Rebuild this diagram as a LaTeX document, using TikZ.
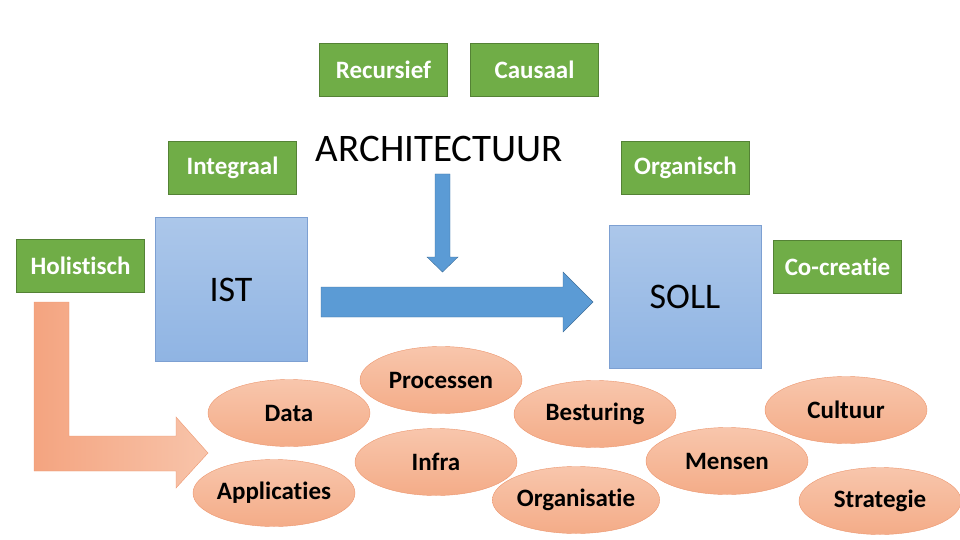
\documentclass[tikz,border=0pt]{standalone}
\usepackage{fontspec}
\setmainfont{Carlito}[Ligatures=NoCommon]
\usetikzlibrary{shapes.geometric, positioning, calc}
\definecolor{mygreen}{RGB}{112,173,71}
\definecolor{mygreenline}{RGB}{84,130,53}
\definecolor{myblue}{RGB}{91,155,213}
\definecolor{myblueline}{RGB}{65,113,156}
\definecolor{boxtop}{RGB}{172,199,234}
\definecolor{boxbot}{RGB}{143,180,227}
\definecolor{boxline}{RGB}{125,160,210}
\definecolor{ovaltop}{RGB}{248,198,172}
\definecolor{ovalbot}{RGB}{244,172,136}
\definecolor{ovalline}{RGB}{236,150,110}
\definecolor{bendleft}{RGB}{244,164,128}
\definecolor{bendright}{RGB}{248,196,170}
\tikzset{
  greenbox/.style={draw=mygreenline, fill=mygreen, text=white, font=\bfseries\fontsize{25}{28}\selectfont, minimum width=128pt, minimum height=53pt, inner sep=0pt},
  statebox/.style={draw=boxline, top color=boxtop, bottom color=boxbot, font=\fontsize{36}{40}\selectfont, minimum width=152pt, minimum height=144pt, inner sep=0pt},
  facet/.style={ellipse, draw=ovalline, top color=ovaltop, bottom color=ovalbot, font=\bfseries\fontsize{25}{28}\selectfont, minimum width=162pt, minimum height=67pt, inner sep=0pt},
}

\begin{document}
\begin{tikzpicture}[x=1pt, y=-1pt]
  \useasboundingbox (0,0) rectangle (960,540);
  % principles
  \node[greenbox] (recursief) at (383.5,70) {Recursief};
  \node[greenbox] (causaal) at (534.5,70) {Causaal};
  \node[greenbox] (integraal) at (232.5,167.5) {Integraal};
  \node[greenbox] (organisch) at (685.5,167.5) {Organisch};
  \node[greenbox] (holistisch) at (80.5,266) {Holistisch};
  \node[greenbox] (cocreatie) at (837.5,266.5) {Co-creatie};
  \node[inner sep=0pt, font=\fontsize{39}{42}\selectfont] (arch) at (439.5,149) {ARCHITECTUUR};
  % states
  \node[statebox] (ist) at (231,289.5) {IST};
  \node[statebox, minimum height=143pt] (soll) at (685,296.5) {SOLL};
  % block arrows
  \draw[draw=myblueline, fill=myblue] (435,174) -- (450,174) -- (450,257) -- (458,257) -- (442.5,272) -- (427,257) -- (435,257) -- cycle;
  \draw[draw=myblueline, fill=myblue] (321,287) -- (563,287) -- (563,272) -- (593,302) -- (563,332) -- (563,317) -- (321,317) -- cycle;
  \draw[draw=ovalline, left color=bendleft, right color=bendright] (34,302) -- (69,302) -- (69,436) -- (176,436) -- (176,417) -- (208,453) -- (176,488) -- (176,471) -- (34,471) -- cycle;
  % aspects
  \node[facet] (data) at (289,413) {Data};
  \node[facet] (processen) at (441,380) {Processen};
  \node[facet] (besturing) at (595,414) {Besturing};
  \node[facet] (cultuur) at (846,410) {Cultuur};
  \node[facet] (infra) at (436,462) {Infra};
  \node[facet] (mensen) at (727,461) {Mensen};
  \node[facet] (applicaties) at (274,493) {Applicaties};
  \node[facet] (organisatie) at (576,500) {Organisatie};
  \node[facet] (strategie) at (880,501) {Strategie};
\end{tikzpicture}
\end{document}
